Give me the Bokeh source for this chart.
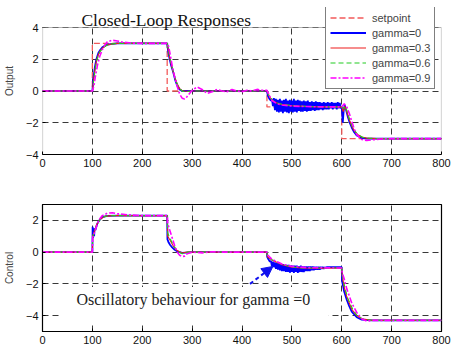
from bokeh.plotting import figure
from bokeh.layouts import column
from bokeh.models import (Range1d, FixedTicker, Legend, LegendItem, Label,
                          BoxAnnotation, Arrow, NormalHead)
from bokeh.embed import file_html
from bokeh.resources import INLINE

# ---------------- data (time, value) pairs ----------------
setpoint = [(0, 0), (100, 0), (100, 3), (250, 3), (250, 0), (450, 0), (450, -1),
            (600, -1), (600, -3), (800, -3)]

out_g0 = [(0, 0), (100, 0), (102, 0.8), (105, 1.5), (108, 2.0), (112, 2.4), (116, 2.6),
          (120, 2.75), (125, 2.85), (130, 2.92), (140, 2.97), (150, 3.0), (200, 3.0),
          (250, 3.0), (252, 2.5), (255, 2.0), (258, 1.6), (262, 1.2), (266, 0.7),
          (270, 0.35), (275, 0.1), (280, 0.0), (300, 0.0), (350, 0.0), (400, 0.0),
          (450, 0.0), (452, -0.3), (455, -0.5), (458, -0.6),
          (460, -0.5), (462, -0.95), (464, -0.45), (466, -1.2), (468, -0.5), (470, -1.3),
          (472, -0.55), (474, -1.35), (476, -0.5), (478, -1.3), (480, -0.6), (482, -1.4),
          (484, -0.55), (486, -1.3), (488, -0.5), (490, -1.35), (492, -0.6), (494, -1.4),
          (496, -0.55), (498, -1.3), (500, -0.6), (502, -1.35), (504, -0.5), (506, -1.3),
          (508, -0.6), (510, -1.35), (512, -0.55), (514, -1.25), (516, -0.6), (518, -1.3),
          (520, -0.65), (522, -1.3), (524, -0.6), (526, -1.25), (528, -0.65), (530, -1.3),
          (532, -0.6), (534, -1.25), (536, -0.7), (538, -1.25), (540, -0.65), (542, -1.2),
          (544, -0.7), (546, -1.25), (548, -0.65), (550, -1.2), (552, -0.7), (554, -1.2),
          (556, -0.7), (558, -1.15), (560, -0.75), (562, -1.2), (564, -0.7), (566, -1.15),
          (568, -0.75), (570, -1.15), (572, -0.7), (574, -1.15), (576, -0.75), (578, -1.1),
          (580, -0.7), (582, -1.15), (584, -0.75), (586, -1.1), (588, -0.75), (590, -1.15),
          (592, -0.7), (594, -1.1), (596, -0.75), (598, -1.1),
          (600, -1.0), (602, -2.0), (604, -1.2), (606, -0.9), (608, -1.1), (612, -1.6),
          (616, -2.0), (620, -2.3), (625, -2.6), (630, -2.8), (640, -2.95), (650, -3.0),
          (700, -3.0), (800, -3.0)]

out_g03 = [(0, 0), (100, 0), (102, 0.6), (105, 1.3), (108, 1.9), (112, 2.3), (116, 2.55),
           (120, 2.7), (125, 2.82), (130, 2.9), (140, 2.97), (150, 3.0), (250, 3.0),
           (252, 2.6), (255, 2.1), (258, 1.7), (262, 1.2), (266, 0.8), (270, 0.45),
           (275, 0.15), (280, 0.02), (290, -0.02), (300, 0.0), (450, 0.0), (452, -0.15),
           (455, -0.35), (460, -0.55), (465, -0.68), (470, -0.76), (480, -0.85),
           (500, -0.93), (530, -0.98), (560, -1.0), (600, -1.0), (603, -1.3), (606, -0.95),
           (610, -1.3), (615, -1.8), (620, -2.2), (625, -2.5), (630, -2.7), (640, -2.9),
           (650, -2.97), (670, -3.0), (800, -3.0)]

out_g06 = [(0, 0), (100, 0), (102, 0.5), (105, 1.2), (108, 1.8), (112, 2.25), (116, 2.5),
           (120, 2.68), (125, 2.8), (130, 2.9), (140, 2.97), (150, 3.0), (250, 3.0),
           (253, 2.5), (256, 2.0), (260, 1.5), (264, 1.0), (268, 0.6), (272, 0.3),
           (277, 0.08), (282, -0.03), (290, -0.03), (300, 0.0), (450, 0.0), (453, -0.2),
           (456, -0.4), (460, -0.55), (465, -0.67), (470, -0.75), (480, -0.84),
           (500, -0.92), (530, -0.97), (560, -1.0), (600, -1.0), (604, -1.1), (607, -0.95),
           (611, -1.3), (616, -1.8), (621, -2.2), (626, -2.5), (632, -2.75), (642, -2.92),
           (655, -2.98), (680, -3.0), (800, -3.0)]

out_g09 = [(0, 0), (100, 0), (103, 0.3), (106, 0.9), (110, 1.6), (115, 2.2), (120, 2.6),
           (125, 2.9), (130, 3.1), (140, 3.2), (150, 3.15), (160, 3.08), (180, 3.02),
           (200, 3.0), (250, 3.0), (253, 2.8), (256, 2.3), (260, 1.6), (265, 0.9),
           (270, 0.3), (275, -0.2), (280, -0.45), (285, -0.5), (290, -0.35), (300, 0.05),
           (310, 0.25), (320, 0.1), (330, -0.15), (340, -0.05), (350, 0.1), (360, 0.0),
           (370, -0.05), (380, 0.1), (390, 0.0), (400, -0.05), (410, 0.05), (420, 0.0),
           (430, 0.1), (440, 0.05), (450, 0.05), (455, -0.3), (460, -0.6), (470, -0.8),
           (480, -0.88), (500, -0.95), (530, -0.98), (560, -1.0), (600, -1.0), (605, -0.8),
           (610, -1.0), (615, -1.4), (620, -1.9), (625, -2.4), (630, -2.75), (640, -3.05),
           (650, -3.12), (660, -3.08), (680, -3.02), (700, -3.0), (800, -3.0)]

ctl_g0 = [(0, 0), (100, 0), (100.5, 1.6), (101.5, 0.9), (102.5, 1.5), (103.5, 1.0),
          (104.5, 1.5), (106, 1.4), (110, 1.8), (115, 2.05), (120, 2.2), (130, 2.28),
          (150, 2.3), (250, 2.3), (250.5, 0.8), (253, 0.6), (256, 0.45), (260, 0.3),
          (265, 0.15), (270, 0.05), (275, 0.0), (280, -0.05), (300, 0.0), (450, 0.0),
          (450.5, -0.3), (453, -0.45), (456, -0.6),
          (458, -0.55), (460, -0.9), (462, -0.6), (464, -0.95), (466, -0.65), (468, -1.05),
          (470, -0.7), (472, -1.1), (474, -0.7), (476, -1.15), (478, -0.75), (480, -1.2),
          (482, -0.75), (484, -1.2), (486, -0.8), (488, -1.25), (490, -0.8), (492, -1.25),
          (494, -0.8), (496, -1.3), (498, -0.85), (500, -1.25), (502, -0.85), (504, -1.3),
          (506, -0.85), (508, -1.25), (510, -0.85), (512, -1.3), (514, -0.9), (516, -1.25),
          (518, -0.85), (520, -1.25), (522, -0.9), (524, -1.25), (526, -0.9), (528, -1.2),
          (530, -0.9), (532, -1.2), (534, -0.9), (536, -1.2), (538, -0.9), (540, -1.15),
          (542, -0.9), (544, -1.15), (546, -0.92), (548, -1.1), (550, -0.92), (552, -1.1),
          (554, -0.92), (556, -1.1), (558, -0.93), (560, -1.05), (562, -0.93), (564, -1.05),
          (566, -0.95), (568, -1.02), (570, -0.95), (585, -0.95), (600, -0.95),
          (600.5, -1.8), (605, -2.5), (610, -3.0), (615, -3.4), (620, -3.75), (630, -4.1),
          (640, -4.25), (660, -4.3), (800, -4.3)]

ctl_g03 = [(0, 0), (100, 0), (100.5, 1.0), (103, 1.2), (108, 1.7), (115, 2.05), (125, 2.25),
           (140, 2.3), (250, 2.3), (251, 1.0), (255, 0.8), (262, 0.4), (270, 0.1),
           (280, -0.05), (290, 0.0), (450, 0.0), (451, -0.3), (460, -0.5), (480, -0.8),
           (500, -0.95), (520, -1.0), (550, -1.02), (600, -1.0), (601, -1.5), (605, -2.2),
           (610, -2.8), (620, -3.6), (630, -4.0), (640, -4.2), (660, -4.3), (800, -4.3)]

ctl_g06 = [(0, 0), (100, 0), (100.5, 0.95), (104, 1.25), (110, 1.8), (118, 2.15),
           (128, 2.28), (145, 2.3), (250, 2.3), (251, 1.2), (256, 0.85), (263, 0.4),
           (271, 0.05), (280, -0.1), (292, 0.0), (450, 0.0), (451, -0.25), (460, -0.48),
           (480, -0.78), (500, -0.93), (520, -1.0), (600, -1.0), (601, -1.4), (606, -2.2),
           (612, -2.9), (622, -3.6), (632, -4.05), (645, -4.25), (665, -4.3), (800, -4.3)]

ctl_g09 = [(0, 0), (100, 0), (100.5, 0.9), (105, 1.3), (110, 1.8), (115, 2.1), (120, 2.3),
           (130, 2.45), (140, 2.48), (150, 2.42), (170, 2.35), (200, 2.3), (250, 2.3),
           (251, 1.8), (255, 1.4), (260, 0.9), (265, 0.4), (270, 0.0), (275, -0.2),
           (280, -0.28), (285, -0.25), (290, -0.1), (300, 0.0), (320, -0.05), (340, 0.02),
           (360, 0.0), (450, 0.0), (452, -0.2), (460, -0.45), (480, -0.75), (500, -0.9),
           (530, -0.98), (600, -1.0), (601, -1.3), (605, -1.7), (610, -2.3), (620, -3.2),
           (630, -3.8), (640, -4.2), (650, -4.35), (660, -4.3), (800, -4.3)]

x_ticks = [0, 100, 200, 300, 400, 500, 600, 700, 800]
y_ticks_top = [-4, -2, 0, 2, 4]
y_ticks_bot = [-4, -2, 0, 2]

series_names = ["setpoint", "gamma=0", "gamma=0.3", "gamma=0.6", "gamma=0.9"]
title_text = "Closed-Loop Responses"
note_text = "Oscillatory behaviour for gamma =0"

# ---------------- styles ----------------
styles = {
    "setpoint": dict(line_color="#f25a5a", line_width=1.3, line_dash="6 3"),
    "gamma=0": dict(line_color="#0000ff", line_width=1.8),
    "gamma=0.3": dict(line_color="#ee1c1c", line_width=1.1),
    "gamma=0.6": dict(line_color="#22cc22", line_width=1.1, line_dash="5 3"),
    "gamma=0.9": dict(line_color="#ff00ff", line_width=1.6, line_dash="6 2 2 2"),
}


def xy(pairs):
    return [p[0] for p in pairs], [p[1] for p in pairs]


def make_fig(height, y0, y1, yticks, ylabel, top, bottom):
    p = figure(width=455, height=height, output_backend="svg", toolbar_location=None,
               title=None,
               x_range=Range1d(0, 800), y_range=Range1d(y0, y1),
               min_border_left=41, min_border_right=14,
               min_border_top=top, min_border_bottom=bottom)
    p.background_fill_color = "white"
    p.border_fill_color = "white"
    p.outline_line_color = "black"
    p.outline_line_width = 1.2
    p.outline_line_alpha = 1
    p.xaxis.ticker = FixedTicker(ticks=x_ticks)
    p.yaxis.ticker = FixedTicker(ticks=yticks)
    for ax in (p.xaxis[0], p.yaxis[0]):
        ax.major_label_text_font = "Liberation Sans"
        ax.major_label_text_font_size = "11px"
        ax.major_label_text_color = "#111111"
        ax.major_tick_in = 3
        ax.major_tick_out = 0
        ax.minor_tick_line_color = None
        ax.axis_line_color = "black"
        ax.major_tick_line_color = "black"
        ax.major_label_standoff = 4
    p.yaxis.axis_label = ylabel
    p.yaxis.axis_label_text_font = "Liberation Sans"
    p.yaxis.axis_label_text_font_size = "10px"
    p.yaxis.axis_label_text_font_style = "normal"
    p.yaxis.axis_label_standoff = 8
    for g in (p.xgrid[0], p.ygrid[0]):
        g.grid_line_color = "#222222"
        g.grid_line_dash = "6 4"
        g.grid_line_width = 1
        g.grid_line_alpha = 0.9
    return p


# ---------------- top: outputs ----------------
# frame extends above y=4 (to hold title and legend); the part above 4 is blanked
p1 = make_fig(175, -4, 5.26, y_ticks_top, "Output", 7, 21)
p1.outline_line_color = None
p1.yaxis.axis_line_color = None

renderers = []
for name, pairs in zip(series_names, [setpoint, out_g0, out_g03, out_g06, out_g09]):
    xs, ys = xy(pairs)
    renderers.append(p1.line(xs, ys, **styles[name]))

p1.add_layout(BoxAnnotation(bottom=4, fill_color="white", fill_alpha=1, line_alpha=0))
p1.add_layout(BoxAnnotation(left=0, right=800, bottom=-4, top=4, fill_alpha=0,
                            line_color="black", line_width=1.2))
p1.add_layout(Label(x=78, y=4.5, text=title_text, text_baseline="alphabetic",
                    text_font="Liberation Serif", text_font_size="17.5px",
                    text_color="#111111"))

items = [LegendItem(label=n, renderers=[r]) for n, r in zip(series_names, renderers)]
legend = Legend(items=items, location=(283, 65))
legend.label_text_font = "Liberation Sans"
legend.label_text_font_size = "11px"
legend.label_height = 13
legend.glyph_height = 13
legend.glyph_width = 36
legend.label_standoff = 6
legend.spacing = 2
legend.padding = 4
legend.margin = 0
legend.border_line_color = "black"
legend.border_line_width = 1
legend.background_fill_alpha = 1
p1.add_layout(legend, "center")

# ---------------- bottom: control ----------------
p2 = make_fig(175, -5, 3, y_ticks_bot, "Control", 29, 19)
for name, pairs in zip(series_names[1:], [ctl_g0, ctl_g03, ctl_g06, ctl_g09]):
    xs, ys = xy(pairs)
    p2.line(xs, ys, **styles[name])

box = BoxAnnotation(left=34, right=574, bottom=-4.45, top=-2.2,
                    fill_color="white", fill_alpha=1, line_alpha=0)
p2.add_layout(box)
p2.add_layout(Label(x=68, y=-3.0, text=note_text, text_baseline="middle",
                    text_font="Liberation Serif", text_font_size="16px",
                    text_color="#222222"))
p2.add_layout(Arrow(x_start=416, y_start=-2.0, x_end=462, y_end=-0.9,
                    line_color="#1010ee", line_width=2, line_dash="4 3",
                    end=NormalHead(size=11, fill_color="#1010ee",
                                   line_color="#1010ee")))

layout = column(p1, p2, spacing=0)
open("out.html", "w").write(file_html(layout, INLINE))
